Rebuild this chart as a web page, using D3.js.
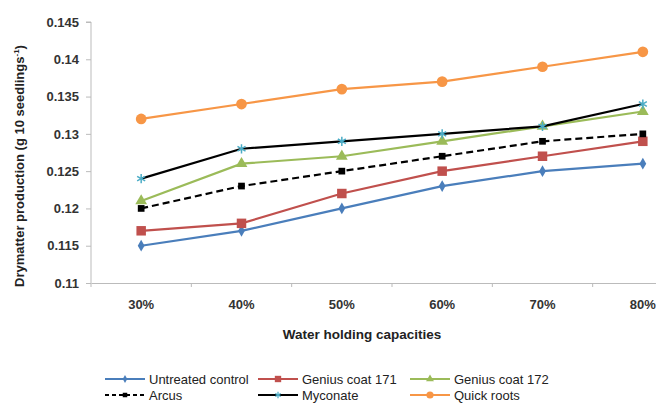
<!DOCTYPE html>
<html><head><meta charset="utf-8">
<script src="https://cdn.jsdelivr.net/npm/d3@7"></script>
<style>body{margin:0;background:#fff}svg{display:block;font-family:"Liberation Sans",Arial,sans-serif}</style>
</head><body>
<svg id="c" width="656" height="413"></svg>
<script>
const categories = ["30%","40%","50%","60%","70%","80%"];
const yTicks = [0.11,0.115,0.12,0.125,0.13,0.135,0.14,0.145];
const untreated = [0.115,0.117,0.120,0.123,0.125,0.126];
const genius171 = [0.117,0.118,0.122,0.125,0.127,0.129];
const genius172 = [0.121,0.126,0.127,0.129,0.131,0.133];
const arcus     = [0.120,0.123,0.125,0.127,0.129,0.130];
const myconate  = [0.124,0.128,0.129,0.130,0.131,0.134];
const quickRoots= [0.132,0.134,0.136,0.137,0.139,0.141];

const series = [
  {name:"Untreated control", values:untreated, line:"#4a7ebb", mk:"#4a7ebb", sym:d3.symbolDiamond, size:40, dash:null},
  {name:"Genius coat 171", values:genius171, line:"#c0504d", mk:"#c0504d", sym:d3.symbolSquare, size:90, dash:null},
  {name:"Genius coat 172", values:genius172, line:"#9bbb59", mk:"#9bbb59", sym:d3.symbolTriangle, size:60, dash:null},
  {name:"Arcus", values:arcus, line:"#000", mk:"#000", sym:d3.symbolSquare, size:45, dash:"7,4"},
  {name:"Myconate", values:myconate, line:"#000", mk:"#4bacc6", sym:d3.symbolAsterisk, size:60, dash:null},
  {name:"Quick roots", values:quickRoots, line:"#f79646", mk:"#f79646", sym:d3.symbolCircle, size:90, dash:null}
];

const svg = d3.select("#c");
const L = 91, R = 693, T = 22, B = 283;
const x = d3.scaleBand().domain(categories).range([L,R]);
const y = d3.scaleLinear().domain([0.11,0.145]).range([B,T]);
const FONT = "Liberation Sans, Arial, sans-serif";

const yAxis = svg.append("g").attr("transform",`translate(${L},0)`)
  .call(d3.axisLeft(y).tickValues(yTicks).tickSize(5).tickPadding(7).tickFormat(d=>String(+d.toFixed(3))));
yAxis.selectAll("path,line").attr("stroke","#bbb");
yAxis.select(".domain").attr("d",`M-5,${T}H0V${B}`);
yAxis.selectAll("text").attr("font-size",13).attr("font-weight","bold").attr("fill","#333").attr("font-family",FONT);

const xAxis = svg.append("g").attr("transform",`translate(0,${B})`)
  .call(d3.axisBottom(x).tickSize(0).tickPadding(17));
xAxis.select(".domain").attr("stroke","#bbb");
xAxis.selectAll("text").attr("font-size",13).attr("font-weight","bold").attr("fill","#333").attr("font-family",FONT);
svg.append("g").selectAll("line").data(categories).join("line")
  .attr("x1",d=>x(d)).attr("x2",d=>x(d)).attr("y1",B).attr("y2",B+4).attr("stroke","#bbb");

svg.append("text").attr("x",362).attr("y",339).attr("text-anchor","middle")
  .attr("font-size",13.5).attr("font-weight","bold").attr("fill","#222").text("Water holding capacities");
const yt = svg.append("text").attr("transform",`translate(24,166) rotate(-90)`).attr("text-anchor","middle")
  .attr("font-size",13).attr("font-weight","bold").attr("fill","#222");
yt.append("tspan").text("Drymatter production (g 10 seedlings");
yt.append("tspan").attr("font-size",8).attr("dy",-5).text("-1");
yt.append("tspan").attr("dy",5).text(")");

const cx = d => x(d) + x.bandwidth()/2;
const line = d3.line().x((v,i)=>cx(categories[i])).y(v=>y(v));

series.forEach(s=>{
  svg.append("path").attr("d",line(s.values)).attr("fill","none").attr("stroke",s.line)
    .attr("stroke-width",2.2).attr("stroke-dasharray",s.dash);
  svg.append("g").selectAll("path").data(s.values).join("path")
    .attr("transform",(v,i)=>`translate(${cx(categories[i])},${y(v)})`)
    .attr("d",d3.symbol(s.sym,s.size)())
    .attr("fill",s.sym===d3.symbolAsterisk?"none":s.mk)
    .attr("stroke",s.sym===d3.symbolAsterisk?s.mk:"none").attr("stroke-width",1.5);
});

// legend
const legPos = [[105,379],[258,379],[410,379],[105,395],[258,395],[410,395]];
series.forEach((s,i)=>{
  const [lx,ly] = legPos[i];
  const g = svg.append("g").attr("transform",`translate(${lx},${ly})`);
  g.append("line").attr("x1",0).attr("x2",40).attr("y1",0).attr("y2",0)
    .attr("stroke",s.line).attr("stroke-width",2).attr("stroke-dasharray",s.dash?"4,3":null);
  g.append("path").attr("transform","translate(20,0)").attr("d",d3.symbol(s.sym,s.size*0.45)())
    .attr("fill",s.sym===d3.symbolAsterisk?"none":s.mk)
    .attr("stroke",s.sym===d3.symbolAsterisk?s.mk:"none").attr("stroke-width",1.2);
  g.append("text").attr("x",44).attr("y",4.5).attr("font-size",13).attr("fill","#222").text(s.name);
});
</script>
</body></html>
